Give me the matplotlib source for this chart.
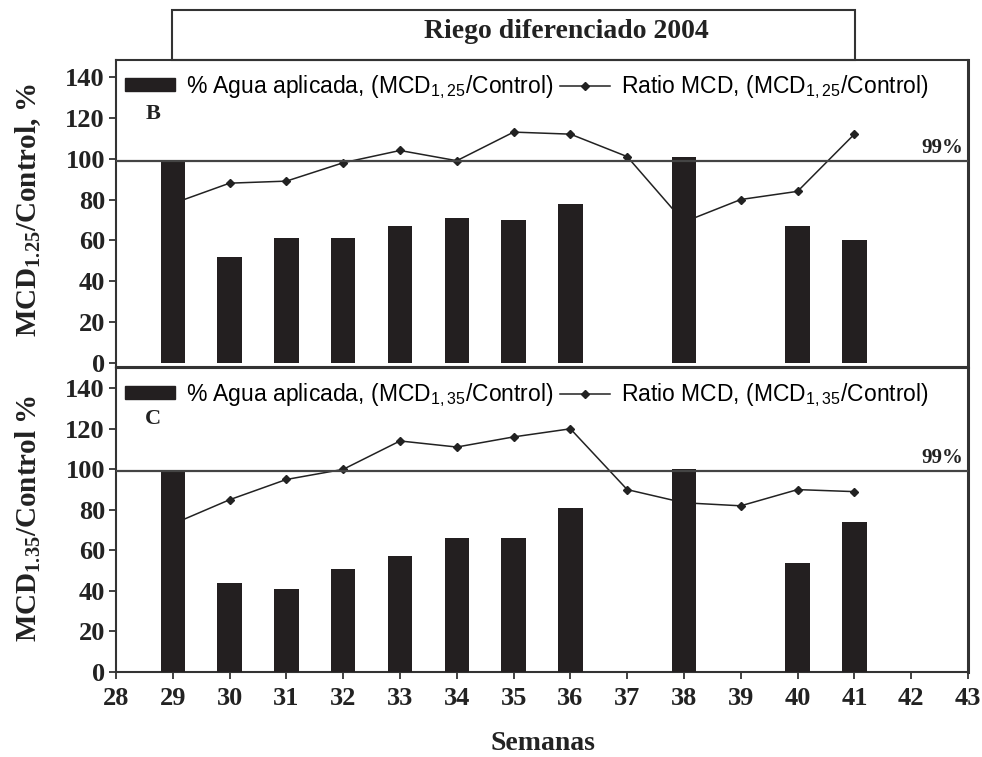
import matplotlib
matplotlib.use("Agg")
import matplotlib.pyplot as plt
from matplotlib.patches import Rectangle, Patch
from matplotlib.lines import Line2D

plt.rcParams['mathtext.default'] = 'regular'

weeks_bar = [29, 30, 31, 32, 33, 34, 35, 36, 38, 40, 41]
agua_B = [99, 52, 61, 61, 67, 71, 70, 78, 101, 67, 60]
agua_C = [99, 44, 41, 51, 57, 66, 66, 81, 100, 54, 74]

weeks_line = [29, 30, 31, 32, 33, 34, 35, 36, 37, 38, 39, 40, 41]
ratio_B = [78, 88, 89, 98, 104, 99, 113, 112, 101, 69, 80, 84, 112]
ratio_C = [73, 85, 95, 100, 114, 111, 116, 120, 90, 83.5, 82, 90, 89]

ref_level = 99
xticks = list(range(28, 44))
yticks = list(range(0, 141, 20))

W, H = 982, 757
fig = plt.figure(figsize=(W / 100, H / 100), dpi=100)

def fx(px):
    return px / W

def fy(py):
    return 1 - py / H

serif = 'Liberation Serif'
sans = 'Liberation Sans'
barcol = '#231f20'
txtcol = '#222222'

# title box
fig.patches.append(Rectangle((fx(172), fy(60)), fx(855) - fx(172), fy(10) - fy(60),
                             transform=fig.transFigure, fill=False, edgecolor='#333333', lw=1.5))
fig.text(fx(566), fy(31), 'Riego diferenciado 2004', ha='center', va='center',
         family=serif, fontweight='bold', fontsize=20, color=txtcol)

L, R = 116, 968
ax1 = fig.add_axes([fx(L), fy(367), fx(R) - fx(L), fy(60) - fy(367)])
ax2 = fig.add_axes([fx(L), fy(672), fx(R) - fx(L), fy(368) - fy(672)])

panels = [
    (ax1, agua_B, ratio_B, '1,25', 'B', (-2, 148.3), 122),
    (ax2, agua_C, ratio_C, '1,35', 'C', (0, 150), 125),
]

for ax, agua, ratio, sub, letter, ylim, ly in panels:
    ax.plot(weeks_line, ratio, color=txtcol, lw=1.1, marker='D', markersize=4.5,
            zorder=2)
    ax.bar(weeks_bar, agua, width=0.43, color=barcol, zorder=3)
    ax.axhline(ref_level, color='#444444', lw=1.6, zorder=4)
    ax.set_xlim(28, 43)
    ax.set_ylim(*ylim)
    ax.set_yticks(yticks)
    ax.set_yticklabels([str(v) for v in yticks], family=serif, fontweight='bold',
                       fontsize=19, color=txtcol)
    ax.tick_params(axis='y', direction='out', length=5, width=1.3, pad=3, colors='#333333',
                   labelcolor=txtcol)
    for s in ax.spines.values():
        s.set_linewidth(1.5)
        s.set_color('#333333')
    ax.spines['right'].set_linewidth(2.2)
    ax.text(42.92, 100.5, '99%', ha='right', va='bottom', family=serif,
            fontweight='bold', fontsize=15, color=txtcol)
    ax.text(28.65, ly, letter, ha='center', va='center',
            family=serif, fontweight='bold', fontsize=16, color=txtcol)
    handles = [Patch(facecolor=barcol, edgecolor=barcol),
               Line2D([], [], color=txtcol, lw=1.1, marker='D', markersize=4.5)]
    labels = ['%% Agua aplicada, (MCD$_{%s}$/Control)' % sub,
              'Ratio MCD, (MCD$_{%s}$/Control)' % sub]
    ax.legend(handles, labels, ncol=2, loc='upper left', frameon=False,
              bbox_to_anchor=(0.005, 0.972), borderaxespad=0, borderpad=0.2,
              handlelength=2.2, handleheight=0.5, handletextpad=0.45,
              columnspacing=0.3, prop={'family': sans, 'size': 16.5})

ax1.set_xticks([])
ax2.set_xticks(xticks)
ax2.set_xticklabels([str(v) for v in xticks], family=serif, fontweight='bold',
                    fontsize=19, color=txtcol)
ax2.tick_params(axis='x', direction='out', length=5, width=1.3, pad=6, colors='#333333',
                labelcolor=txtcol)

fig.text(fx(28), fy(210), 'MCD$_{1.25}$/Control, %', rotation=90, ha='center', va='center',
         family=serif, fontweight='bold', fontsize=21, color=txtcol)
fig.text(fx(28), fy(518), 'MCD$_{1.35}$/Control %', rotation=90, ha='center', va='center',
         family=serif, fontweight='bold', fontsize=21, color=txtcol)
fig.text(fx(543), fy(744), 'Semanas', ha='center', va='center', family=serif,
         fontweight='bold', fontsize=20, color=txtcol)

fig.savefig('out.png', dpi=100)
